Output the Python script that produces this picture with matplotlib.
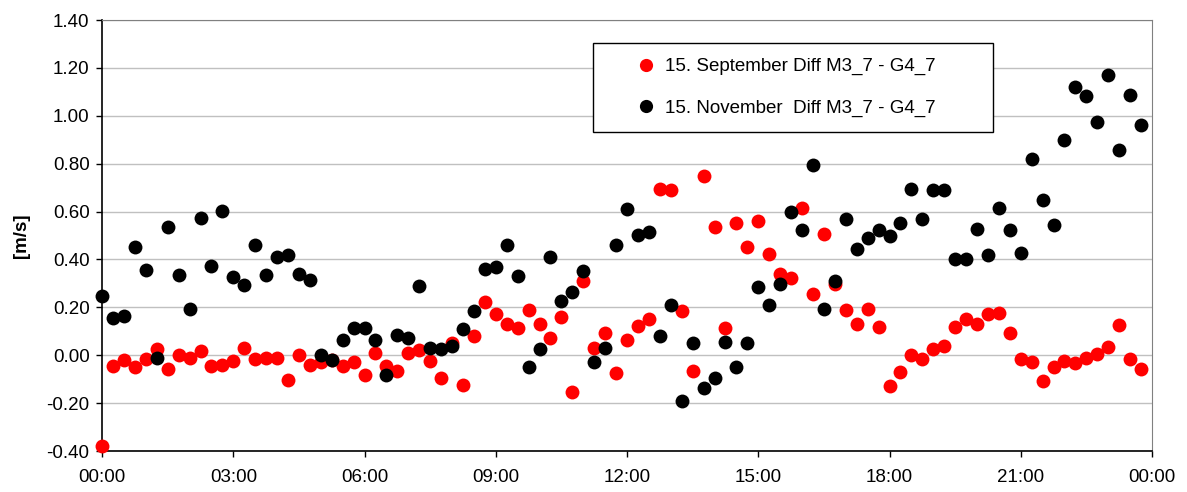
import numpy as np
import matplotlib
matplotlib.use("Agg")
import matplotlib.pyplot as plt

plt.rcParams['font.family'] = ['Liberation Sans', 'DejaVu Sans']

# values every 15 minutes, 00:00 .. 23:45
september = [
    -0.38, -0.047, -0.021, -0.051, -0.017, 0.025, -0.058, 0.0, -0.011, 0.018,
    -0.047, -0.04, -0.024, 0.032, -0.017, -0.011, -0.011, -0.102, 0.0, -0.042,
    -0.03, -0.02, -0.047, -0.03, -0.083, 0.008, -0.044, -0.065, 0.011, 0.022,
    -0.026, -0.093, 0.053, -0.125, 0.08, 0.223, 0.173, 0.131, 0.115, 0.188,
    0.131, 0.073, 0.159, -0.152, 0.311, 0.032, 0.091, -0.076, 0.064, 0.122,
    0.152, 0.693, 0.689, 0.184, -0.065, 0.749, 0.537, 0.115, 0.554, 0.454,
    0.562, 0.424, 0.34, 0.322, 0.617, 0.257, 0.507, 0.299, 0.191, 0.131,
    0.192, 0.119, -0.128, -0.069, 0.0, -0.017, 0.025, 0.039, 0.118, 0.15,
    0.129, 0.171, 0.178, 0.094, -0.014, -0.028, -0.107, -0.051, -0.024, -0.033,
    -0.01, 0.007, 0.035, 0.125, -0.014, -0.058,
]
november = [
    0.246, 0.156, 0.163, 0.454, 0.357, -0.01, 0.537, 0.334, 0.195, 0.572,
    0.371, 0.603, 0.327, 0.292, 0.461, 0.336, 0.41, 0.417, 0.34, 0.316,
    0.0, -0.019, 0.064, 0.112, 0.112, 0.064, -0.083, 0.084, 0.073, 0.288,
    0.032, 0.025, 0.039, 0.108, 0.184, 0.36, 0.368, 0.461, 0.329, -0.051,
    0.025, 0.41, 0.226, 0.264, 0.35, -0.028, 0.032, 0.461, 0.61, 0.502,
    0.513, 0.08, 0.208, -0.19, 0.05, -0.137, -0.097, 0.055, -0.051, 0.05,
    0.285, 0.208, 0.299, 0.599, 0.523, 0.796, 0.195, 0.309, 0.569, 0.443,
    0.49, 0.522, 0.497, 0.553, 0.694, 0.571, 0.689, 0.689, 0.4, 0.4,
    0.528, 0.418, 0.615, 0.522, 0.425, 0.821, 0.65, 0.546, 0.897, 1.122,
    1.083, 0.974, 1.171, 0.856, 1.085, 0.963,
]
hours = np.arange(len(september)) * 0.25
tick_hours = [0, 3, 6, 9, 12, 15, 18, 21, 24]
tick_labels = ["00:00", "03:00", "06:00", "09:00", "12:00", "15:00", "18:00", "21:00", "00:00"]
label_sep = "15. September Diff M3_7 - G4_7"
label_nov = "15. November  Diff M3_7 - G4_7"

fig = plt.figure(figsize=(11.87, 4.92), dpi=100)
ax = fig.add_axes([0.086, 0.0833, 0.8845, 0.8760])

ax.plot(hours, september, 'o', color='#ff0000', ms=10, mew=0, clip_on=False,
        label=label_sep, zorder=3)
ax.plot(hours, november, 'o', color='black', ms=10, mew=0, clip_on=False,
        label=label_nov, zorder=4)

ax.set_xlim(0, 24)
ax.set_ylim(-0.4, 1.4)
ax.set_xticks(tick_hours)
ax.set_xticklabels(tick_labels)
ax.set_yticks(np.arange(-0.4, 1.41, 0.2))
ax.yaxis.set_major_formatter(plt.FormatStrFormatter('%.2f'))
ax.tick_params(direction='out', length=4, width=1, labelsize=13.5, colors='black')
ax.tick_params(axis='x', pad=9)
ax.tick_params(axis='y', pad=5)

ax.grid(axis='y', color='#c0c0c0', lw=1)
ax.set_axisbelow(True)
for s in ['top', 'right']:
    ax.spines[s].set_color('#808080')
for s in ['left', 'bottom']:
    ax.spines[s].set_color('black')
    ax.spines[s].set_linewidth(1.2)

ax.set_ylabel("[m/s]", fontsize=13.5, fontweight='bold', labelpad=12)

leg = ax.legend(loc='center', bbox_to_anchor=(0.468, 0.738, 0.381, 0.211),
                mode='expand', fontsize=13.5, frameon=True, fancybox=False,
                edgecolor='black', framealpha=1, borderpad=0.8,
                labelspacing=1.3, handlelength=4, handletextpad=-1.0,
                markerscale=0.95, borderaxespad=0)
leg.get_frame().set_linewidth(1)

fig.savefig("out.png", dpi=100)
